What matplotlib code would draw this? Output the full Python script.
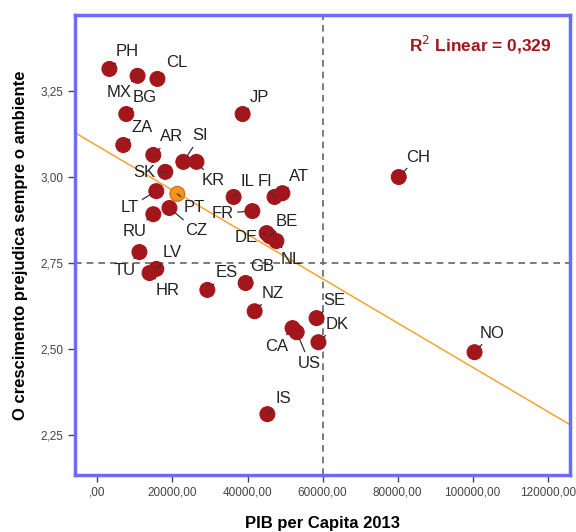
import numpy as np
import matplotlib
matplotlib.use('Agg')
import matplotlib.pyplot as plt

plt.rcParams['font.family'] = ['Liberation Sans', 'DejaVu Sans']

# dados
paises = ['PH', 'MX', 'CL', 'BG', 'JP', 'ZA', 'AR', 'SI', 'KR', 'SK', 'LT', 'PT',
          'CZ', 'RU', 'IL', 'FI', 'AT', 'FR', 'DE', 'BE', 'NL', 'TU', 'LV', 'HR',
          'ES', 'GB', 'NZ', 'SE', 'CA', 'US', 'DK', 'IS', 'CH', 'NO']
pib = [3200, 10700, 16000, 7700, 38700, 6900, 14900, 22900, 26400, 18100, 15700, 21300,
       19200, 14900, 36300, 47200, 49300, 41300, 45100, 45900, 47700, 11200, 15700, 13900,
       29300, 39500, 41900, 58400, 52000, 53100, 58900, 45300, 80300, 100500]
cresc = [3.314, 3.294, 3.285, 3.183, 3.183, 3.093, 3.064, 3.044, 3.044, 3.015, 2.959, 2.951,
         2.910, 2.892, 2.942, 2.942, 2.953, 2.901, 2.837, 2.828, 2.814, 2.782, 2.733, 2.721,
         2.672, 2.692, 2.610, 2.590, 2.561, 2.549, 2.520, 2.311, 3.000, 2.491]

destaque = 'PT'

# posição dos rótulos (px relativos ao ponto)
offs = {'PH': (18, -17), 'CL': (19, -16), 'MX': (-18, 17), 'BG': (18, -17), 'JP': (17, -17),
        'ZA': (19, -17), 'AR': (18, -18), 'SI': (17, -26), 'KR': (17, 19), 'SK': (-21, 1),
        'LT': (-27, 16), 'PT': (17, 14), 'CZ': (27, 23), 'RU': (-19, 17), 'IL': (14, -15),
        'FI': (-10, -15), 'AT': (17, -17), 'FR': (-30, 2), 'DE': (-20, 4), 'BE': (17, -15),
        'NL': (15, 18), 'TU': (-15, 18), 'LV': (16, -16), 'HR': (18, 17), 'ES': (19, -17),
        'GB': (17, -17), 'NZ': (18, -18), 'SE': (18, -18), 'CA': (-16, 18), 'US': (13, 31),
        'DK': (19, -18), 'IS': (16, -16), 'CH': (19, -20), 'NO': (18, -19)}

xticks = [0, 20000, 40000, 60000, 80000, 100000, 120000]
xlabels = [',00', '20000,00', '40000,00', '60000,00', '80000,00', '100000,00', '120000,00']
yticks = [2.25, 2.50, 2.75, 3.00, 3.25]
ylabels = ['2,25', '2,50', '2,75', '3,00', '3,25']

fig = plt.figure(figsize=(5.76, 5.32), dpi=100)
ax = fig.add_axes([0.130, 0.107, 0.860, 0.865])
ax.set_xlim(-6000, 126000)
ax.set_ylim(2.134, 3.471)

# linhas de referência
ax.axvline(60000, color='#666666', ls=(0, (4, 3)), lw=1.2, zorder=1)
ax.axhline(2.75, color='#666666', ls=(0, (4, 3)), lw=1.2, zorder=1)

# recta de regressão
x = np.array(pib, dtype=float)
y = np.array(cresc)
b, a = np.polyfit(x, y, 1)
xs = np.array(ax.get_xlim())
ax.plot(xs, a + b * xs, color='#F7A234', lw=1.1, zorder=2)

cores = ['#F7941D' if p == destaque else '#A3171C' for p in paises]
bordas = ['#D06A10' if p == destaque else '#A3171C' for p in paises]
ax.scatter(pib, cresc, s=115, c=cores, edgecolors=bordas, linewidths=0.8, zorder=3)

for p, xi, yi in zip(paises, pib, cresc):
    dx, dy = offs[p]
    ax.annotate(p, (xi, yi), xytext=(dx * 0.72, -dy * 0.72), textcoords='offset points',
                ha='center', va='center', fontsize=12, color='#222222', zorder=4,
                arrowprops=dict(arrowstyle='-', color='#333333', lw=0.9,
                                shrinkA=1, shrinkB=5))

ax.text(0.962, 0.935, r'R$^2$ Linear = 0,329', transform=ax.transAxes, ha='right', va='center',
        fontsize=12.5, fontweight='bold', color='#A3171C')

ax.set_xticks(xticks)
ax.set_xticklabels(xlabels)
ax.set_yticks(yticks)
ax.set_yticklabels(ylabels)
ax.tick_params(labelsize=8.5, colors='#444444', length=5, width=1)
for s in ax.spines.values():
    s.set_color('#6B6BFF')
    s.set_linewidth(2.5)

ax.set_xlabel('PIB per Capita 2013', fontsize=12, fontweight='bold', labelpad=12)
ax.set_ylabel('O crescimento prejudica sempre o ambiente', fontsize=12, fontweight='bold', labelpad=9)

fig.savefig('out.png', dpi=100)
